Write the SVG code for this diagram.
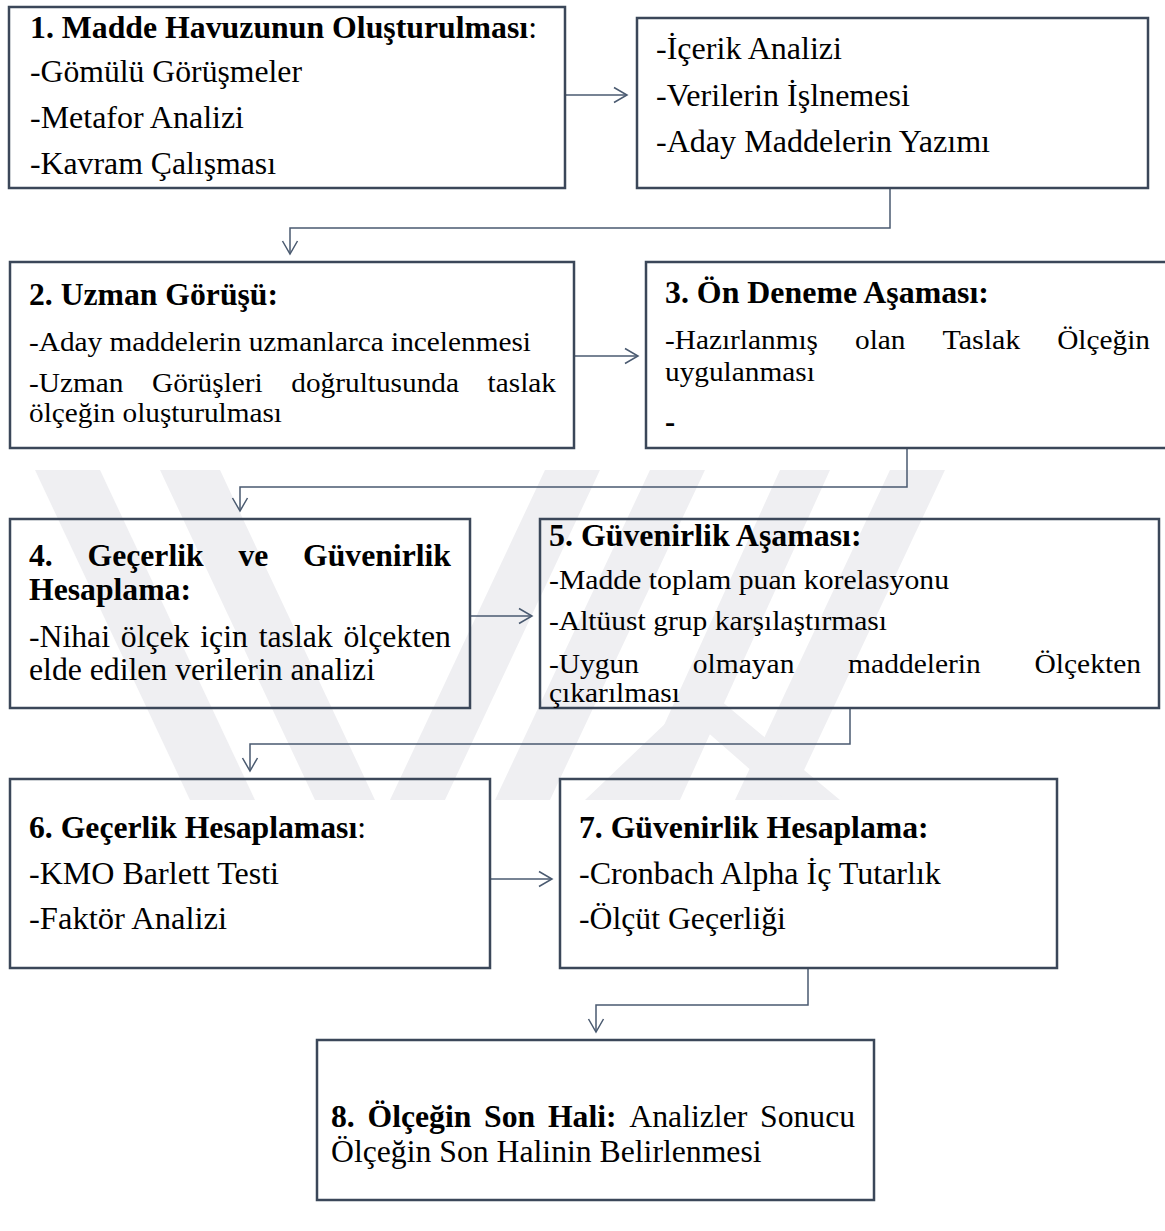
<svg xmlns="http://www.w3.org/2000/svg" width="1165" height="1231" viewBox="0 0 1165 1231">
  <style>
    .box { fill: none; stroke: #3b4759; stroke-width: 2.5; }
    .wire { fill: none; stroke: #4a5a70; stroke-width: 1.5; marker-end: url(#chev); }
    text { font-family: "Liberation Serif", "Times New Roman", serif; fill: #000; }
    .l { font-size: 30.5px; }
    .m { font-size: 28.2px; }
    .b { font-weight: bold; }
    .mark { fill: #efeff2; }
  </style>
  <defs>
    <marker id="chev" viewBox="-14 -9 16 18" markerWidth="16" markerHeight="18" refX="0" refY="0" orient="auto" markerUnits="userSpaceOnUse">
      <path d="M-13,-7.5 L0,0 L-13,7.5" fill="none" stroke="#4a5a70" stroke-width="1.5"/>
    </marker>
  </defs>
  <rect width="1165" height="1231" fill="#fff"/>

  <!-- faint background emblem -->
  <g id="watermark">
    <polygon class="mark" points="35,470 100,470 255,800 190,800"/>
    <polygon class="mark" points="160,470 220,470 375,800 315,800"/>
    <polygon class="mark" points="545,470 600,470 445,800 390,800"/>
    <polygon class="mark" points="650,470 705,470 550,800 495,800"/>
    <polygon class="mark" points="780,470 830,470 680,800 630,800"/>
    <polygon class="mark" points="890,470 945,470 790,800 735,800"/>
    <polygon class="mark" points="690,700 720,700 840,800 785,800 705,730 640,800 585,800"/>
  </g>

  <!-- connectors -->
  <g id="connectors">
    <path class="wire" d="M565,95 H627"/>
    <path class="wire" d="M890,188 V228 H290 V254"/>
    <path class="wire" d="M574,356 H638"/>
    <path class="wire" d="M907,448 V487 H240 V511"/>
    <path class="wire" d="M470,616 H532"/>
    <path class="wire" d="M850,708 V744 H250 V771"/>
    <path class="wire" d="M490,879 H552"/>
    <path class="wire" d="M808,968 V1005 H596 V1032"/>
  </g>

  <!-- step 1: item pool -->
  <g id="n1">
    <rect class="box" x="9" y="7" width="556" height="181"/>
    <text class="l" x="30" y="38" textLength="507" lengthAdjust="spacingAndGlyphs"><tspan class="b">1. Madde Havuzunun Oluşturulması</tspan>:</text>
    <text class="l" x="30" y="82" textLength="272" lengthAdjust="spacingAndGlyphs">-Gömülü Görüşmeler</text>
    <text class="l" x="30" y="128" textLength="214" lengthAdjust="spacingAndGlyphs">-Metafor Analizi</text>
    <text class="l" x="30" y="174" textLength="246" lengthAdjust="spacingAndGlyphs">-Kavram Çalışması</text>
  </g>

  <!-- step 1 continued: analysis -->
  <g id="n2">
    <rect class="box" x="637" y="18" width="511" height="170"/>
    <text class="l" x="656" y="59" textLength="186" lengthAdjust="spacingAndGlyphs">-İçerik Analizi</text>
    <text class="l" x="656" y="106" textLength="254" lengthAdjust="spacingAndGlyphs">-Verilerin İşlnemesi</text>
    <text class="l" x="656" y="152" textLength="334" lengthAdjust="spacingAndGlyphs">-Aday Maddelerin Yazımı</text>
  </g>

  <!-- step 2: expert opinion -->
  <g id="n3">
    <rect class="box" x="10" y="262" width="564" height="186"/>
    <text class="l b" x="29" y="305" textLength="249" lengthAdjust="spacingAndGlyphs">2. Uzman Görüşü:</text>
    <text class="m" x="29" y="351" textLength="502" lengthAdjust="spacingAndGlyphs">-Aday maddelerin uzmanlarca incelenmesi</text>
    <text class="m" x="29" y="392" textLength="94.4" lengthAdjust="spacingAndGlyphs">-Uzman</text>
    <text class="m" x="152" y="392" textLength="110.7" lengthAdjust="spacingAndGlyphs">Görüşleri</text>
    <text class="m" x="291.3" y="392" textLength="167.7" lengthAdjust="spacingAndGlyphs">doğrultusunda</text>
    <text class="m" x="487.6" y="392" textLength="68.4" lengthAdjust="spacingAndGlyphs">taslak</text>
    <text class="m" x="29" y="422" textLength="253" lengthAdjust="spacingAndGlyphs">ölçeğin oluşturulması</text>
  </g>

  <!-- step 3: pilot -->
  <g id="n4">
    <rect class="box" x="646" y="262" width="540" height="186"/>
    <text class="l b" x="665" y="303" textLength="324" lengthAdjust="spacingAndGlyphs">3. Ön Deneme Aşaması:</text>
    <text class="m" x="665" y="349" textLength="153" lengthAdjust="spacingAndGlyphs">-Hazırlanmış</text>
    <text class="m" x="855" y="349" textLength="50.5" lengthAdjust="spacingAndGlyphs">olan</text>
    <text class="m" x="942.4" y="349" textLength="78" lengthAdjust="spacingAndGlyphs">Taslak</text>
    <text class="m" x="1057.2" y="349" textLength="92.8" lengthAdjust="spacingAndGlyphs">Ölçeğin</text>
    <text class="m" x="665" y="381" textLength="149.8" lengthAdjust="spacingAndGlyphs">uygulanması</text>
    <text class="l b" x="665" y="432">-</text>
  </g>

  <!-- step 4: validity and reliability -->
  <g id="n5">
    <rect class="box" x="10" y="519" width="460" height="189"/>
    <text class="l b" x="29" y="566" textLength="23.8" lengthAdjust="spacingAndGlyphs">4.</text>
    <text class="l b" x="87.5" y="566" textLength="116.2" lengthAdjust="spacingAndGlyphs">Geçerlik</text>
    <text class="l b" x="238.4" y="566" textLength="29.9" lengthAdjust="spacingAndGlyphs">ve</text>
    <text class="l b" x="303" y="566" textLength="148" lengthAdjust="spacingAndGlyphs">Güvenirlik</text>
    <text class="l b" x="29" y="600" textLength="162" lengthAdjust="spacingAndGlyphs">Hesaplama:</text>
    <text class="l" x="29" y="647" textLength="81" lengthAdjust="spacingAndGlyphs">-Nihai</text>
    <text class="l" x="120.8" y="647" textLength="68.7" lengthAdjust="spacingAndGlyphs">ölçek</text>
    <text class="l" x="200.3" y="647" textLength="47.6" lengthAdjust="spacingAndGlyphs">için</text>
    <text class="l" x="258.7" y="647" textLength="74" lengthAdjust="spacingAndGlyphs">taslak</text>
    <text class="l" x="343.5" y="647" textLength="107.4" lengthAdjust="spacingAndGlyphs">ölçekten</text>
    <text class="l" x="29" y="680" textLength="346" lengthAdjust="spacingAndGlyphs">elde edilen verilerin analizi</text>
  </g>

  <!-- step 5: reliability stage -->
  <g id="n6">
    <rect class="box" x="540" y="519" width="619" height="189"/>
    <text class="l b" x="549" y="546" textLength="312.6" lengthAdjust="spacingAndGlyphs">5. Güvenirlik Aşaması:</text>
    <text class="m" x="549" y="589" textLength="400" lengthAdjust="spacingAndGlyphs">-Madde toplam puan korelasyonu</text>
    <text class="m" x="549" y="630" textLength="338" lengthAdjust="spacingAndGlyphs">-Altüust grup karşılaştırması</text>
    <text class="m" x="549" y="673" textLength="90.1" lengthAdjust="spacingAndGlyphs">-Uygun</text>
    <text class="m" x="692.8" y="673" textLength="101.6" lengthAdjust="spacingAndGlyphs">olmayan</text>
    <text class="m" x="848.1" y="673" textLength="132.7" lengthAdjust="spacingAndGlyphs">maddelerin</text>
    <text class="m" x="1034.5" y="673" textLength="106.5" lengthAdjust="spacingAndGlyphs">Ölçekten</text>
    <text class="m" x="549" y="702" textLength="131" lengthAdjust="spacingAndGlyphs">çıkarılması</text>
  </g>

  <!-- step 6: validity -->
  <g id="n7">
    <rect class="box" x="10" y="779" width="480" height="189"/>
    <text class="l" x="29" y="838" textLength="337" lengthAdjust="spacingAndGlyphs"><tspan class="b">6. Geçerlik Hesaplaması</tspan>:</text>
    <text class="l" x="29" y="884" textLength="250" lengthAdjust="spacingAndGlyphs">-KMO Barlett Testi</text>
    <text class="l" x="29" y="929" textLength="198" lengthAdjust="spacingAndGlyphs">-Faktör Analizi</text>
  </g>

  <!-- step 7: reliability -->
  <g id="n8">
    <rect class="box" x="560" y="779" width="497" height="189"/>
    <text class="l b" x="579" y="838" textLength="349.6" lengthAdjust="spacingAndGlyphs">7. Güvenirlik Hesaplama:</text>
    <text class="l" x="579" y="884" textLength="361.8" lengthAdjust="spacingAndGlyphs">-Cronbach Alpha İç Tutarlık</text>
    <text class="l" x="579" y="929" textLength="206.9" lengthAdjust="spacingAndGlyphs">-Ölçüt Geçerliği</text>
  </g>

  <!-- step 8: final form -->
  <g id="n9">
    <rect class="box" x="317" y="1040" width="557" height="160"/>
    <text class="l b" x="331" y="1127" textLength="23.8" lengthAdjust="spacingAndGlyphs">8.</text>
    <text class="l b" x="367.5" y="1127" textLength="103.9" lengthAdjust="spacingAndGlyphs">Ölçeğin</text>
    <text class="l b" x="484.1" y="1127" textLength="51.1" lengthAdjust="spacingAndGlyphs">Son</text>
    <text class="l b" x="547.9" y="1127" textLength="68.7" lengthAdjust="spacingAndGlyphs">Hali:</text>
    <text class="l" x="629.3" y="1127" textLength="118" lengthAdjust="spacingAndGlyphs">Analizler</text>
    <text class="l" x="760" y="1127" textLength="95.1" lengthAdjust="spacingAndGlyphs">Sonucu</text>
    <text class="l" x="331" y="1162" textLength="430.6" lengthAdjust="spacingAndGlyphs">Ölçeğin Son Halinin Belirlenmesi</text>
  </g>
</svg>
